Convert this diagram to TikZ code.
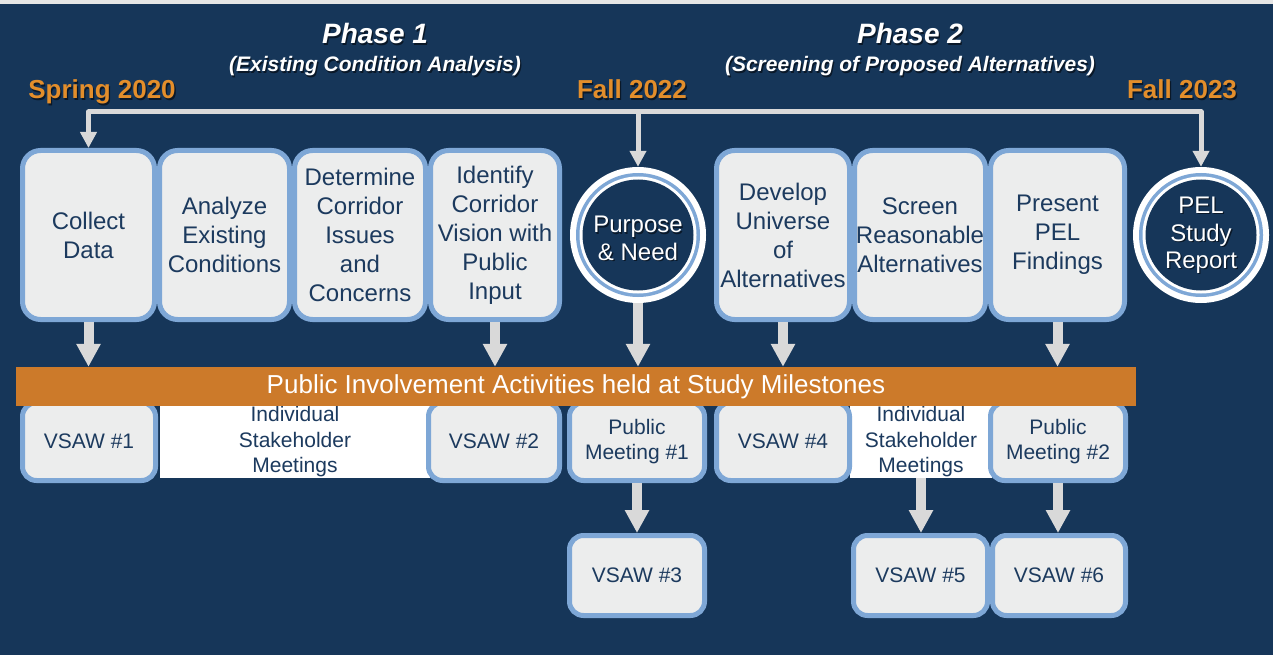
\documentclass[tikz,border=0pt]{standalone}
\usepackage{fontspec}
\setmainfont{Liberation Sans}
\usetikzlibrary{arrows.meta,calc}

\definecolor{navy}{HTML}{163659}
\definecolor{boxfill}{HTML}{ECEDED}
\definecolor{boxedge}{HTML}{7EA7D6}
\definecolor{ink}{HTML}{1C3A5E}
\definecolor{amber}{HTML}{CC7A2A}
\definecolor{datecol}{HTML}{E38E2B}
\definecolor{arrowgray}{HTML}{D9D9D9}
\definecolor{topstrip}{HTML}{E6E6E6}
\definecolor{shadowcol}{HTML}{0A1828}

% text with a soft drop shadow below and to the right
\newcommand\dropshadowtext[1]{\makebox[0pt][l]{\kern1.3pt\raisebox{-1.3pt}{\textcolor{shadowcol}{#1}}}#1}

\tikzset{
  stagebox/.style={draw=boxedge, fill=boxfill, line width=5pt, rounded corners=18pt,
    text=ink, align=center, font=\fontsize{24}{29}\selectfont, inner sep=0pt,
    minimum height=169pt},
  meetbox/.style={draw=boxedge, fill=boxfill, line width=5pt, rounded corners=14pt,
    text=ink, align=center, font=\fontsize{21}{25.5}\selectfont, inner sep=0pt},
  band/.style={fill=white, text=ink, align=center, font=\fontsize{21}{25.5}\selectfont,
    inner sep=0pt, minimum height=72pt},
  milestone/.style={circle, fill=white, minimum size=136pt, inner sep=0pt,
    path picture={
      \fill[boxedge] (path picture bounding box.center) circle (62pt);
      \fill[white] (path picture bounding box.center) circle (58.5pt);
      \fill[navy] (path picture bounding box.center) circle (55.5pt);
    }},
  milestonetext/.style={text=white, align=center, font=\fontsize{24}{27.5}\selectfont},
  phasetitle/.style={text=white, anchor=base, font=\fontsize{28}{32}\selectfont\bfseries\itshape},
  phasesub/.style={text=white, anchor=base, font=\fontsize{21}{25}\selectfont\bfseries\itshape},
  datelabel/.style={text=datecol, anchor=base, font=\fontsize{26}{30}\selectfont\bfseries},
  busarrow/.style={draw=arrowgray, line width=5pt, line join=round,
    -{Triangle[width=16pt,length=16pt]}},
  flowarrow/.style={draw=arrowgray, line width=10pt, -{Triangle[width=23pt,length=23pt]}},
}

\begin{document}
\begin{tikzpicture}[x=1pt,y=-1pt]
  % canvas
  \useasboundingbox (0,0) rectangle (1273,655);
  \fill[navy] (0,0) rectangle (1273,655);
  \fill[topstrip] (0,0) rectangle (1273,4);

  % phase headings and dates
  \node[phasetitle] (ph1) at (375,44) {\dropshadowtext{Phase 1}};
  \node[phasesub] (ph1s) at (375,72) {\dropshadowtext{(Existing Condition Analysis)}};
  \node[phasetitle] (ph2) at (910,44) {\dropshadowtext{Phase 2}};
  \node[phasesub] (ph2s) at (910,72) {\dropshadowtext{(Screening of Proposed Alternatives)}};
  \node[datelabel] (d1) at (102,99) {\dropshadowtext{Spring 2020}};
  \node[datelabel] (d2) at (632,99) {\dropshadowtext{Fall 2022}};
  \node[datelabel] (d3) at (1182,99) {\dropshadowtext{Fall 2023}};

  % study stages
  \node[stagebox, minimum width=132pt] (collect) at (88.5,235) {Collect\\Data};
  \node[stagebox, minimum width=130pt] (analyze) at (224.5,235) {Analyze\\Existing\\Conditions};
  \node[stagebox, minimum width=131pt] (determine) at (360,235) {Determine\\Corridor\\Issues\\and\\Concerns};
  \node[stagebox, minimum width=129pt] (identify) at (495,235) {Identify\\Corridor\\Vision with\\Public\\Input};
  \node[milestone, label={[milestonetext, yshift=-4pt]center:\dropshadowtext{Purpose}\\\dropshadowtext{\& Need}}] (pn) at (638,235) {};
  \node[stagebox, minimum width=133pt] (develop) at (783,235) {Develop\\Universe\\of\\Alternatives};
  \node[stagebox, minimum width=131pt] (screen) at (920,235) {Screen\\Reasonable\\Alternatives};
  \node[stagebox, minimum width=134pt] (present) at (1057.5,235) {Present\\PEL\\Findings};
  \node[milestone, label={[milestonetext, yshift=-1pt]center:\dropshadowtext{PEL}\\\dropshadowtext{Study}\\\dropshadowtext{Report}}] (report) at (1201,235) {};

  % schedule bus
  \coordinate (bus) at (0,112);
  \draw[busarrow] (pn.north |- bus) -| (collect.north);
  \draw[busarrow] (pn.north |- bus) -| (report.north);
  \draw[busarrow] (pn.north |- bus) -- (pn.north);

  % stakeholder meeting bands
  \node[band, minimum width=270pt] (ism1) at (295,442) {Individual\\Stakeholder\\Meetings};
  \node[band, minimum width=142pt] (ism2) at (921,442) {Individual\\Stakeholder\\Meetings};

  % first row of meetings
  \node[meetbox, minimum width=133pt, minimum height=78pt] (v1) at (89,441.5) {VSAW \#1};
  \node[meetbox, minimum width=131pt, minimum height=78pt] (v2) at (494,441.5) {VSAW \#2};
  \node[meetbox, minimum width=135pt, minimum height=78pt] (pm1) at (637,441.5) {Public\\Meeting \#1};
  \node[meetbox, minimum width=133pt, minimum height=78pt] (v4) at (783,441.5) {VSAW \#4};
  \node[meetbox, minimum width=135pt, minimum height=78pt] (pm2) at (1058,441.5) {Public\\Meeting \#2};

  % public involvement banner
  \node[fill=amber, minimum width=1120pt, minimum height=39pt, inner sep=0pt, text=white,
        font=\fontsize{26}{30}\selectfont] (bar) at (576,386.5)
        {\raisebox{-1pt}{Public Involvement Activities held at Study Milestones}};

  % second row of meetings
  \node[meetbox, minimum width=135pt, minimum height=80pt] (v3) at (637,575.5) {VSAW \#3};
  \node[meetbox, minimum width=134pt, minimum height=80pt] (v5) at (920.5,575.5) {VSAW \#5};
  \node[meetbox, minimum width=133pt, minimum height=80pt] (v6) at (1059,575.5) {VSAW \#6};

  % stage outputs into the banner
  \draw[flowarrow] (collect.south) -- (collect.south |- bar.north);
  \draw[flowarrow] (identify.south) -- (identify.south |- bar.north);
  \draw[flowarrow] (pn.south) -- (pn.south |- bar.north);
  \draw[flowarrow] (develop.south) -- (develop.south |- bar.north);
  \draw[flowarrow] (present.south) -- (present.south |- bar.north);

  % follow-up workshops
  \draw[flowarrow] (pm1.south) -- (v3.north);
  \draw[flowarrow] (ism2.south) -- (ism2.south |- v5.north);
  \draw[flowarrow] (pm2.south) -- (pm2.south |- v6.north);
\end{tikzpicture}
\end{document}
